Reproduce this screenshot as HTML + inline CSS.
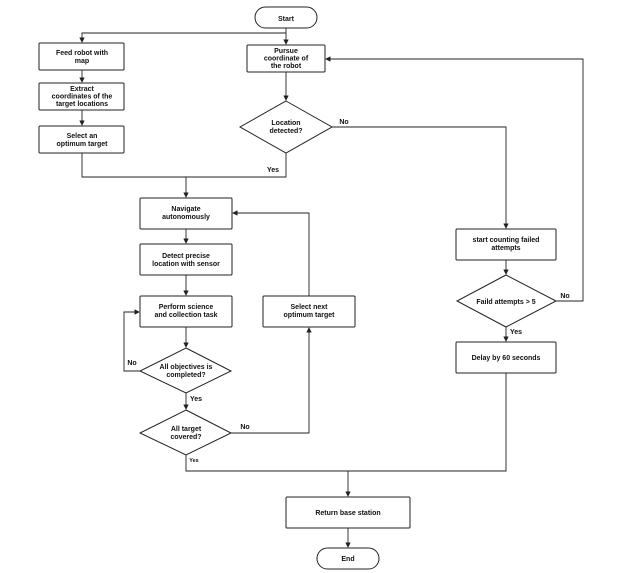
<!DOCTYPE html>
<html><head><style>body{margin:0;background:#fff}svg{display:block}text{font-family:"Liberation Sans",sans-serif;font-size:7px;font-weight:bold;fill:#111;text-anchor:middle}</style></head>
<body>
<svg width="640" height="573" viewBox="0 0 640 573" xmlns="http://www.w3.org/2000/svg">
<defs><marker id="a" markerWidth="6" markerHeight="6" refX="5" refY="3" orient="auto"><path d="M0,0L6,3L0,6z" fill="#222"/></marker></defs>
<g fill="#fff" stroke="#222" stroke-width="1">
<rect x="255" y="7" width="62" height="21" rx="10.5"/>
<rect x="39" y="43" width="85" height="27" rx="1"/>
<rect x="39" y="83" width="85" height="27" rx="1"/>
<rect x="39" y="126" width="85" height="27" rx="1"/>
<rect x="247" y="45" width="78" height="27" rx="1"/>
<polygon points="286,101 332,127 286,153 240,127"/>
<rect x="140" y="198" width="92" height="31" rx="1"/>
<rect x="140" y="244" width="92" height="31" rx="1"/>
<rect x="140" y="296" width="92" height="31" rx="1"/>
<rect x="263" y="296" width="92" height="31" rx="1"/>
<polygon points="186,348 231,371 186,393 140,371"/>
<polygon points="186,410 231,433 186,455 140,433"/>
<rect x="456" y="229" width="100" height="31" rx="1"/>
<polygon points="506,275 556,301 506,327 457,301"/>
<rect x="456" y="342" width="100" height="31" rx="1"/>
<rect x="286" y="497" width="124" height="31" rx="1"/>
<rect x="317" y="548" width="62" height="21" rx="10.5"/>
</g>
<g fill="none" stroke="#222" stroke-width="0.9">
<path d="M286,28V44" marker-end="url(#a)"/>
<path d="M286,33H82V42" marker-end="url(#a)"/>
<path d="M82,70V82" marker-end="url(#a)"/>
<path d="M82,110V125" marker-end="url(#a)"/>
<path d="M286,72V100" marker-end="url(#a)"/>
<path d="M82,153V177H286V153"/>
<path d="M186,177V197" marker-end="url(#a)"/>
<path d="M332,127H506V228" marker-end="url(#a)"/>
<path d="M186,229V243" marker-end="url(#a)"/>
<path d="M186,275V295" marker-end="url(#a)"/>
<path d="M186,327V347" marker-end="url(#a)"/>
<path d="M140,371H124V312H139" marker-end="url(#a)"/>
<path d="M186,393V409" marker-end="url(#a)"/>
<path d="M231,433H309V328" marker-end="url(#a)"/>
<path d="M309,296V213H233" marker-end="url(#a)"/>
<path d="M506,260V274" marker-end="url(#a)"/>
<path d="M556,301H583V59H326" marker-end="url(#a)"/>
<path d="M506,327V341" marker-end="url(#a)"/>
<path d="M186,455V471H506V373"/>
<path d="M348,471V496" marker-end="url(#a)"/>
<path d="M348,528V547" marker-end="url(#a)"/>
</g>
<text x="286" y="21">Start</text>
<text x="82" y="55">Feed robot with</text><text x="82" y="63">map</text>
<text x="82" y="91">Extract</text><text x="82" y="98.5">coordinates of the</text><text x="82" y="106">target locations</text>
<text x="82" y="138">Select an</text><text x="82" y="146">optimum target</text>
<text x="286" y="53">Pursue</text><text x="286" y="60.5">coordinate of</text><text x="286" y="68">the robot</text>
<text x="286" y="125">Location</text><text x="286" y="133">detected?</text>
<text x="344" y="124">No</text>
<text x="273" y="172">Yes</text>
<text x="186" y="211">Navigate</text><text x="186" y="219">autonomously</text>
<text x="186" y="258">Detect precise</text><text x="186" y="266">location with sensor</text>
<text x="186" y="309">Perform science</text><text x="186" y="317">and collection task</text>
<text x="309" y="309">Select next</text><text x="309" y="317">optimum target</text>
<text x="186" y="369">All objectives is</text><text x="186" y="377">completed?</text>
<text x="132" y="365">No</text>
<text x="196" y="401">Yes</text>
<text x="186" y="431">All target</text><text x="186" y="439">covered?</text>
<text x="245" y="429">No</text>
<text x="194" y="462" style="font-size:5.5px">Yes</text>
<text x="506" y="242">start counting failed</text><text x="506" y="250">attempts</text>
<text x="506" y="304">Faild attempts &gt; 5</text>
<text x="565" y="298">No</text>
<text x="516" y="334">Yes</text>
<text x="506" y="360">Delay by  60 seconds</text>
<text x="348" y="515">Return base station</text>
<text x="348" y="561">End</text>
</svg>
</body></html>
